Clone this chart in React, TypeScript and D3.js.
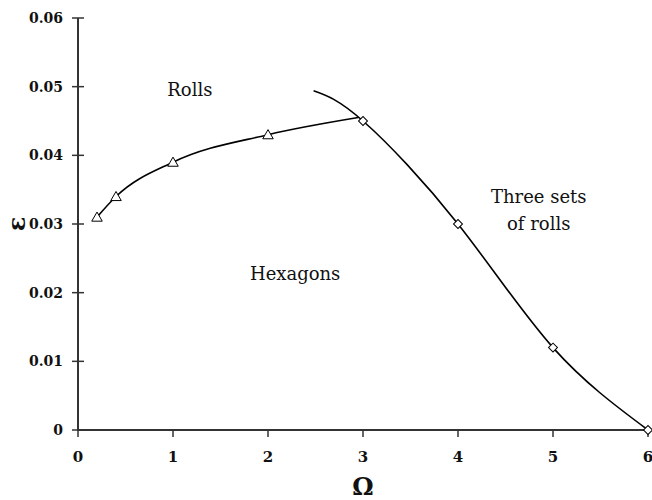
import * as d3 from 'd3'

// boundary between rolls and hexagons (triangles)
const rollsOmega = [0.2, 0.4, 1, 2]
const rollsEps = [0.031, 0.034, 0.039, 0.043]
// curve of the rolls line continues to the meeting point
const rollsLineOmega = [0.2, 0.4, 1, 2, 2.95]
const rollsLineEps = [0.031, 0.034, 0.039, 0.043, 0.0455]

// boundary between hexagons and three sets of rolls (diamonds)
const threeOmega = [3, 4, 5, 6]
const threeEps = [0.045, 0.03, 0.012, 0]
const threeLineOmega = [2.48, 3, 4, 5, 6]
const threeLineEps = [0.0494, 0.045, 0.03, 0.012, 0]

const xTicks = [0, 1, 2, 3, 4, 5, 6]
const yTicks = [0, 0.01, 0.02, 0.03, 0.04, 0.05, 0.06]
const yTickLabels = ['0', '0.01', '0.02', '0.03', '0.04', '0.05', '0.06']

const regionLabels = [
    { lines: ['Rolls'], omega: 0.94, eps: 0.0486, anchor: 'start' },
    { lines: ['Hexagons'], omega: 1.81, eps: 0.0218, anchor: 'start' },
    { lines: ['Three sets', 'of rolls'], omega: 4.85, eps: 0.0331, anchor: 'middle' },
]

const W = 652
const H = 500
const serif = "'DejaVu Serif', serif"

const App = () => {
    const x = d3.scaleLinear().domain([0, 6]).range([78, 648])
    const y = d3.scaleLinear().domain([0, 0.06]).range([430, 18])

    const rollsLine = d3.line<number>()
        .x((d) => x(d))
        .y((_, i) => y(rollsLineEps[i]))
        .curve(d3.curveMonotoneX)

    const threeLine = d3.line<number>()
        .x((d) => x(d))
        .y((_, i) => y(threeLineEps[i]))
        .curve(d3.curveNatural)

    const tri = d3.symbol().type(d3.symbolTriangle).size(48)()
    const sq = d3.symbol().type(d3.symbolSquare).size(40)()

    return (
        <svg width={W} height={H} style={{ position: 'absolute', left: 0, top: 0, background: '#fff' }}>
            {/* axes */}
            <line x1={x(0)} x2={x(0)} y1={y(0.06)} y2={y(0) + 1} stroke="#333" strokeWidth={2} />
            <line x1={x(0) - 1} x2={x(6)} y1={y(0)} y2={y(0)} stroke="#333" strokeWidth={2} />
            {yTicks.map((t, i) => (
                <g key={'y' + i}>
                    <line x1={x(0) - 6} x2={x(0) + 6} y1={y(t)} y2={y(t)} stroke="#333" strokeWidth={1.5} />
                    <text x={63} y={y(t)} dy="0.36em" textAnchor="end"
                        style={{ fontFamily: serif }} fontWeight="bold" fontSize={14} fill="#111">
                        {yTickLabels[i]}
                    </text>
                </g>
            ))}
            {xTicks.map((t) => (
                <g key={'x' + t}>
                    <line x1={x(t)} x2={x(t)} y1={y(0)} y2={y(0) + 7} stroke="#333" strokeWidth={1.5} />
                    <text x={x(t)} y={462} textAnchor="middle"
                        style={{ fontFamily: serif }} fontWeight="bold" fontSize={15} fill="#111">
                        {t}
                    </text>
                </g>
            ))}
            <text x={x(3)} y={495} textAnchor="middle" style={{ fontFamily: serif }} fontWeight="bold" fontSize={24} fill="#111">Ω</text>
            <text transform={`translate(25,${y(0.03)}) rotate(-90)`} textAnchor="middle"
                style={{ fontFamily: serif }} fontWeight="bold" fontSize={24} fill="#111">ε</text>

            {/* boundaries */}
            <path d={rollsLine(rollsLineOmega) || ''} fill="none" stroke="#000" strokeWidth={1.6} />
            <path d={threeLine(threeLineOmega) || ''} fill="none" stroke="#000" strokeWidth={1.6} />

            {rollsOmega.map((o, i) => (
                <path key={'t' + i} d={tri || ''} transform={`translate(${x(o)},${y(rollsEps[i]) + 1})`}
                    fill="#fff" stroke="#000" strokeWidth={1} />
            ))}
            {threeOmega.map((o, i) => (
                <path key={'d' + i} d={sq || ''} transform={`translate(${x(o)},${y(threeEps[i])}) rotate(45)`}
                    fill="#fff" stroke="#000" strokeWidth={1} />
            ))}

            {regionLabels.map((l, i) => (
                <text key={'l' + i} x={x(l.omega)} y={y(l.eps)} textAnchor={l.anchor}
                    style={{ fontFamily: serif }} fontSize={18} fill="#111">
                    {l.lines.map((s, j) => (
                        <tspan key={j} x={x(l.omega)} dy={j === 0 ? 0 : 27}>{s}</tspan>
                    ))}
                </text>
            ))}
        </svg>
    )
}

export default App
